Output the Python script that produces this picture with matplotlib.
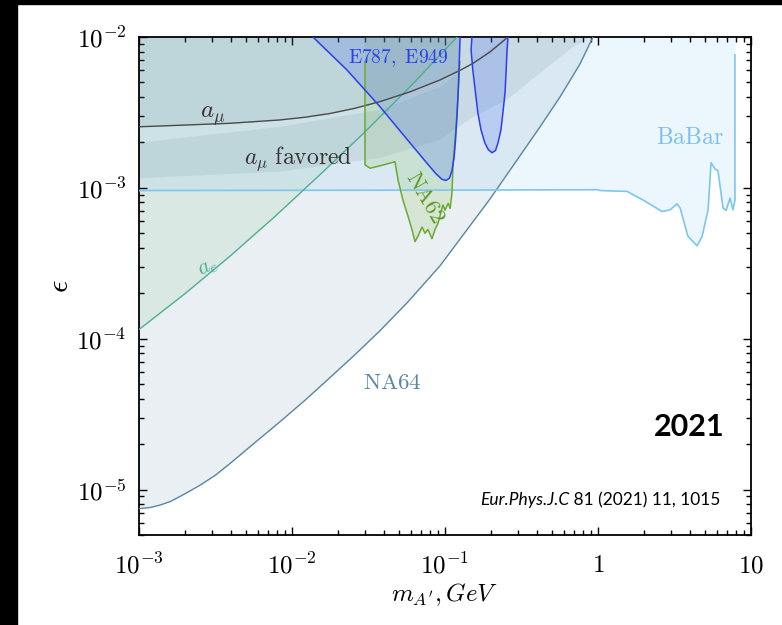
import matplotlib
matplotlib.use('Agg')
import matplotlib.pyplot as plt
from matplotlib.ticker import LogLocator, NullFormatter
from matplotlib.patches import Rectangle

plt.rcParams['mathtext.fontset'] = 'cm'

# --- data (m in GeV, epsilon) ---
na64_m = [0.001, 0.00118, 0.00137, 0.0016, 0.00185, 0.00215, 0.00251, 0.00314, 0.00394,
          0.00573, 0.00836, 0.0122, 0.0177, 0.0258, 0.0376, 0.0565, 0.0927, 0.197,
          0.418, 0.565, 0.762, 0.927]
na64_eps = [7.48e-6, 7.6e-6, 7.89e-6, 8.33e-6, 8.99e-6, 9.78e-6, 1.07e-5, 1.24e-5, 1.49e-5,
            2.05e-5, 2.82e-5, 3.92e-5, 5.52e-5, 7.84e-5, 1.13e-4, 1.73e-4, 3.04e-4, 8.45e-4,
            2.54e-3, 4.01e-3, 6.62e-3, 1e-2]

amu_m = [0.001, 0.00185, 0.00394, 0.00836, 0.0122, 0.0177, 0.0258, 0.0376, 0.059,
         0.0927, 0.125, 0.152, 0.197, 0.258]
amu_eps = [2.54e-3, 2.60e-3, 2.68e-3, 2.82e-3, 2.94e-3, 3.11e-3, 3.37e-3, 3.73e-3, 4.33e-3,
           5.19e-3, 6.0e-3, 6.68e-3, 7.96e-3, 1e-2]

ae_m = [0.001, 0.002, 0.00394, 0.00775, 0.0152, 0.030, 0.059, 0.120]
ae_eps = [1.15e-4, 1.99e-4, 3.53e-4, 6.47e-4, 1.22e-3, 2.35e-3, 4.67e-3, 1e-2]

babar_m = [0.001, 0.1, 1.0, 1.03, 1.55, 1.97, 2.62, 2.96, 3.28, 3.44, 3.87, 4.44, 4.79,
           5.24, 5.48, 5.82, 6.08, 6.56, 6.87, 7.29, 7.62, 7.85, 7.85]
babar_eps = [9.6e-4, 9.66e-4, 9.72e-4, 9.6e-4, 9.47e-4, 8.3e-4, 6.97e-4, 7.15e-4, 7.83e-4,
             7.36e-4, 4.77e-4, 4.13e-4, 4.77e-4, 7.15e-4, 1.47e-3, 1.33e-3, 1.30e-3,
             7.35e-4, 7.08e-4, 8.55e-4, 7.15e-4, 8.3e-4, 7.6e-3]

band_top_m = [0.001, 0.00836, 0.0376, 0.0927, 0.152, 0.254]
band_top_eps = [1.99e-3, 2.54e-3, 3.29e-3, 4.67e-3, 6.82e-3, 1e-2]
band_bot_m = [0.001, 0.00836, 0.0376, 0.0927, 0.152, 0.254, 0.418, 0.687, 0.887]
band_bot_eps = [1.16e-3, 1.28e-3, 1.58e-3, 2.08e-3, 2.95e-3, 3.83e-3, 5.78e-3, 8.59e-3, 1e-2]

e787a_m = [0.0137, 0.0229, 0.0376, 0.0618, 0.0774, 0.0873, 0.0955, 0.1016, 0.107, 0.111,
           0.1146, 0.1172, 0.1198, 0.1225, 0.1253, 0.1258]
e787a_eps = [1e-2, 6.04e-3, 3.45e-3, 1.88e-3, 1.43e-3, 1.24e-3, 1.14e-3, 1.12e-3, 1.16e-3,
             1.30e-3, 1.58e-3, 2.08e-3, 3.04e-3, 4.81e-3, 9.55e-3, 1e-2]

e787b_m = [0.150, 0.148, 0.152, 0.158, 0.164, 0.172, 0.182, 0.192, 0.203, 0.214, 0.222,
           0.232, 0.239, 0.247, 0.251, 0.254, 0.258]
e787b_eps = [1e-2, 8.2e-3, 6.04e-3, 4.33e-3, 3.14e-3, 2.42e-3, 1.99e-3, 1.79e-3, 1.71e-3,
             1.77e-3, 1.99e-3, 2.42e-3, 3.14e-3, 4.33e-3, 6.04e-3, 7.96e-3, 1e-2]

na62_m = [0.0300, 0.0300, 0.0324, 0.0376, 0.0438, 0.0471, 0.0493, 0.0531, 0.0573, 0.0608,
          0.0637, 0.0667, 0.0708, 0.0740, 0.0774, 0.0822, 0.0861, 0.0899, 0.0927, 0.0970,
          0.100, 0.105, 0.108, 0.111, 0.113, 0.120, 0.125]
na62_eps = [6.86e-3, 1.42e-3, 1.35e-3, 1.40e-3, 1.46e-3, 1.49e-3, 1.13e-3, 8.3e-4, 6.5e-4, 5.3e-4,
            4.4e-4, 4.8e-4, 5.5e-4, 5.0e-4, 5.3e-4, 4.6e-4, 5.3e-4, 5.8e-4, 6.5e-4, 7.7e-4,
            7.1e-4, 7.9e-4, 7.3e-4, 9.2e-4, 1.46e-3, 3.13e-3, 6.86e-3]

xticks = [1e-3, 1e-2, 1e-1, 1, 10]
xticklabels = [r'$10^{-3}$', r'$10^{-2}$', r'$10^{-1}$', r'$1$', r'$10$']
yticks = [1e-5, 1e-4, 1e-3, 1e-2]
yticklabels = [r'$10^{-5}$', r'$10^{-4}$', r'$10^{-3}$', r'$10^{-2}$']

top = 1e-2

fig = plt.figure(figsize=(7.82, 6.25), dpi=100)
ax = fig.add_axes([0.1777, 0.144, 0.7827, 0.7968])
ax.set_xscale('log')
ax.set_yscale('log')
ax.set_xlim(1e-3, 10)
ax.set_ylim(5e-6, 1e-2)

# filled regions
ax.fill_between(na64_m, na64_eps, top, color='#6c94a8', alpha=0.15, lw=0, zorder=1)
ax.fill_between(babar_m, babar_eps, top, color='#80c3f2', alpha=0.15, lw=0, zorder=1)
ax.fill_between(ae_m, ae_eps, top, color='#85c095', alpha=0.15, lw=0, zorder=1)
ax.fill(band_bot_m + band_top_m[::-1], band_bot_eps + band_top_eps[::-1],
        color='#7090a0', alpha=0.15, lw=0, zorder=2)
ax.fill_between(amu_m, amu_eps, top, color='#7090a0', alpha=0.15, lw=0, zorder=2)
ax.fill([na62_m[0]] + na62_m + [na62_m[-1]], [top] + na62_eps + [top],
        color='#8cc060', alpha=0.2, lw=0, zorder=3)
ax.fill(e787a_m, e787a_eps, color='#3c5ff0', alpha=0.2, lw=0, zorder=3)
ax.fill(e787b_m, e787b_eps, color='#3c5ff0', alpha=0.2, lw=0, zorder=3)

# boundary lines
ax.plot(na64_m, na64_eps, color='#5b87a3', lw=1.0, zorder=5)
ax.plot(babar_m, babar_eps, color='#7ec6ee', lw=1.2, zorder=5)
ax.plot(ae_m, ae_eps, color='#4fae93', lw=1.0, zorder=5)
ax.plot(amu_m, amu_eps, color='#4a4a4a', lw=1.0, zorder=5)
ax.plot(na62_m, na62_eps, color='#6aaa30', lw=1.1, zorder=6)
ax.plot(e787a_m, e787a_eps, color='#2a3ff0', lw=1.1, zorder=6)
ax.plot(e787b_m, e787b_eps, color='#2a3ff0', lw=1.1, zorder=6)

# labels on the plot
ax.text(0.0493, 7.26e-3, r'$\mathrm{E787,\ E949}$', color='#2a3ff0', fontsize=14,
        ha='center', va='center', zorder=7)
ax.text(0.00305, 3.0e-3, r'$a_\mu$', color='#333333', fontsize=18,
        ha='center', va='center', zorder=7)
ax.text(0.0109, 1.55e-3, r'$a_\mu\ \mathrm{favored}$', color='#333333', fontsize=17,
        ha='center', va='center', zorder=7)
ax.text(0.074, 8.6e-4, r'$\mathrm{NA62}$', color='#5a9a20', fontsize=16, rotation=-60,
        ha='center', va='center', zorder=7)
ax.text(0.0451, 5.1e-5, r'$\mathrm{NA64}$', color='#5b87a3', fontsize=16.5,
        ha='center', va='center', zorder=7)
ax.text(3.99, 2.18e-3, r'$\mathrm{BaBar}$', color='#7ec0ea', fontsize=17,
        ha='center', va='center', zorder=7)
ax.text(0.00282, 2.95e-4, r'$a_e$', color='#4fae93', fontsize=16, rotation=25,
        ha='center', va='center', zorder=7)

ax.text(0.956, 0.217, '2021', transform=ax.transAxes, fontsize=22, fontweight='bold',
        family='Lato', ha='right', va='center', zorder=8)
cite = ax.text(0.557, 0.06, 'Eur.Phys.J.C', transform=ax.transAxes, fontsize=12.5,
               style='italic', family='Lato', ha='left', va='baseline', zorder=8)
ax.annotate(' 81 (2021) 11, 1015', xy=(1, 0), xycoords=cite, fontsize=12.5,
            family='Lato', ha='left', va='bottom', zorder=8)

# axes and ticks
ax.set_xticks(xticks)
ax.set_xticklabels(xticklabels)
ax.set_yticks(yticks)
ax.set_yticklabels(yticklabels)
ax.xaxis.set_minor_locator(LogLocator(base=10, subs=range(2, 10)))
ax.yaxis.set_minor_locator(LogLocator(base=10, subs=range(2, 10)))
ax.xaxis.set_minor_formatter(NullFormatter())
ax.yaxis.set_minor_formatter(NullFormatter())
ax.tick_params(which='both', direction='in', top=True, right=True, width=1.0)
ax.tick_params(which='major', length=6, labelsize=18, pad=9)
ax.tick_params(axis='x', which='major', pad=13)
ax.tick_params(which='minor', length=3.5)
for s in ax.spines.values():
    s.set_linewidth(1.3)

ax.set_xlabel(r"$m_{A^{\prime}}, GeV$", fontsize=18, labelpad=2)
ax.set_ylabel(r'$\epsilon$', fontsize=22, labelpad=2)

# black strips along the left and top edges of the slide capture
fig.patches.append(Rectangle((0, 0), 17 / 782, 1, transform=fig.transFigure,
                             color='black', zorder=10))
fig.patches.append(Rectangle((0, 1 - 4 / 625), 1, 4 / 625, transform=fig.transFigure,
                             color='black', zorder=10))

fig.savefig('out.png', dpi=100)
